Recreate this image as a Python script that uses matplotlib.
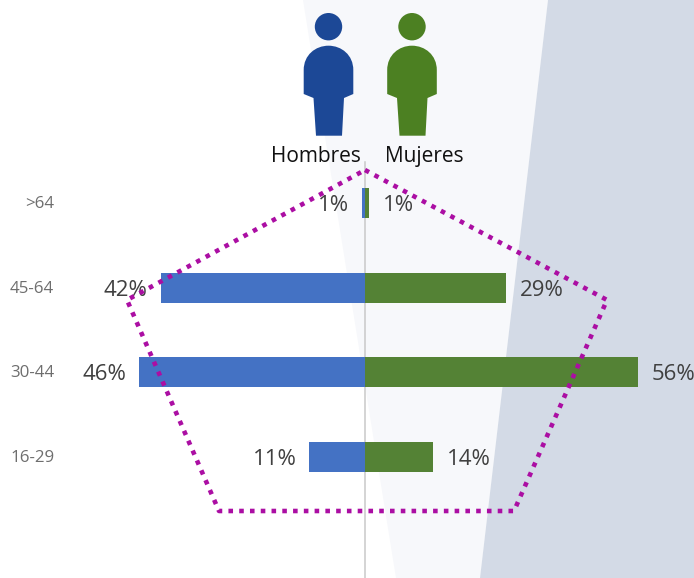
import matplotlib
matplotlib.use('Agg')
import matplotlib.pyplot as plt
from matplotlib.patches import Polygon, Circle, PathPatch
from matplotlib.path import Path

plt.rcParams['font.family'] = ['Open Sans', 'DejaVu Sans']

grupos = ['16-29', '30-44', '45-64', '>64']
hombres = [11.4, 46.4, 41.9, 0.6]
mujeres = [14, 56, 29, 0.9]
etiq_hombres = ['11%', '46%', '42%', '1%']
etiq_mujeres = ['14%', '56%', '29%', '1%']
nombres = ['Hombres', 'Mujeres']

# decoration, in image pixels
W, H = 694, 578
panel_claro = [(303, 0), (548, 0), (480, 578), (396, 578)]
panel_oscuro = [(548, 0), (694, 0), (694, 578), (480, 578)]
pentagono = [(365, 170), (607, 300), (514, 511), (219, 511), (127, 300)]

azul = '#4472c4'
verde = '#548235'
azul_icono = '#1c4896'
verde_icono = '#4c8022'

fig = plt.figure(figsize=(W / 100, H / 100), dpi=100)

# back layer in pixels
fondo = fig.add_axes([0, 0, 1, 1], zorder=0)
fondo.set_xlim(0, W)
fondo.set_ylim(H, 0)
fondo.axis('off')
fondo.add_patch(Polygon(panel_claro, closed=True, fc='#f7f8fb', ec='none'))
fondo.add_patch(Polygon(panel_oscuro, closed=True, fc='#d3dae6', ec='none'))
fondo.plot([365, 365], [162, 578], color='#c9c9c9', lw=1.1)


def persona(ax, cx, color):
    ax.add_patch(Circle((cx, 26.7), 13.7, fc=color, ec='none'))
    v = [(-24.8, 70), (-24.8, 55), (-13, 45.7), (0, 45.7), (13, 45.7), (24.8, 55), (24.8, 70),
         (24.8, 94), (15.5, 98), (13.5, 135.7), (-12.5, 135.7), (-15, 98), (-24.8, 94), (-24.8, 70)]
    c = [Path.MOVETO, Path.CURVE4, Path.CURVE4, Path.CURVE4, Path.CURVE4, Path.CURVE4, Path.CURVE4,
         Path.LINETO, Path.LINETO, Path.LINETO, Path.LINETO, Path.LINETO, Path.LINETO, Path.CLOSEPOLY]
    ax.add_patch(PathPatch(Path([(cx + x, y) for x, y in v], c), fc=color, ec='none'))


persona(fondo, 328.5, azul_icono)
persona(fondo, 412, verde_icono)

# bars
esc = 4.87
fila = 84.67
ax = fig.add_axes([0, 0, 1, 1], zorder=1)
ax.patch.set_alpha(0)
ax.set_xlim(-365 / esc, (W - 365) / esc)
ax.set_ylim((457 - H) / fila, 457 / fila)
ax.axis('off')
y = list(range(len(grupos)))
ax.barh(y, [-v for v in hombres], height=0.355, color=azul)
ax.barh(y, mujeres, height=0.355, color=verde)

for i in y:
    ax.text(-hombres[i] - 2.7, i - 0.03, etiq_hombres[i], ha='right', va='center', fontsize=16, color='#404040')
    ax.text(mujeres[i] + 2.8, i - 0.03, etiq_mujeres[i], ha='left', va='center', fontsize=16, color='#404040')
    ax.text(-63.8, i - 0.01, grupos[i], ha='right', va='center', fontsize=12.2, color='#6e6e6e')

# front layer
frente = fig.add_axes([0, 0, 1, 1], zorder=2)
frente.patch.set_alpha(0)
frente.set_xlim(0, W)
frente.set_ylim(H, 0)
frente.axis('off')
frente.text(316, 156.5, nombres[0], ha='center', va='center', fontsize=15, color='#111111')
frente.text(424, 156.5, nombres[1], ha='center', va='center', fontsize=15, color='#111111')
px, py = zip(*(pentagono + pentagono[:1]))
frente.plot(px, py, color='#ab0ea3', lw=3.3, linestyle=(0, (1, 1.35)), dash_capstyle='butt')

fig.savefig('out.png', dpi=100)
